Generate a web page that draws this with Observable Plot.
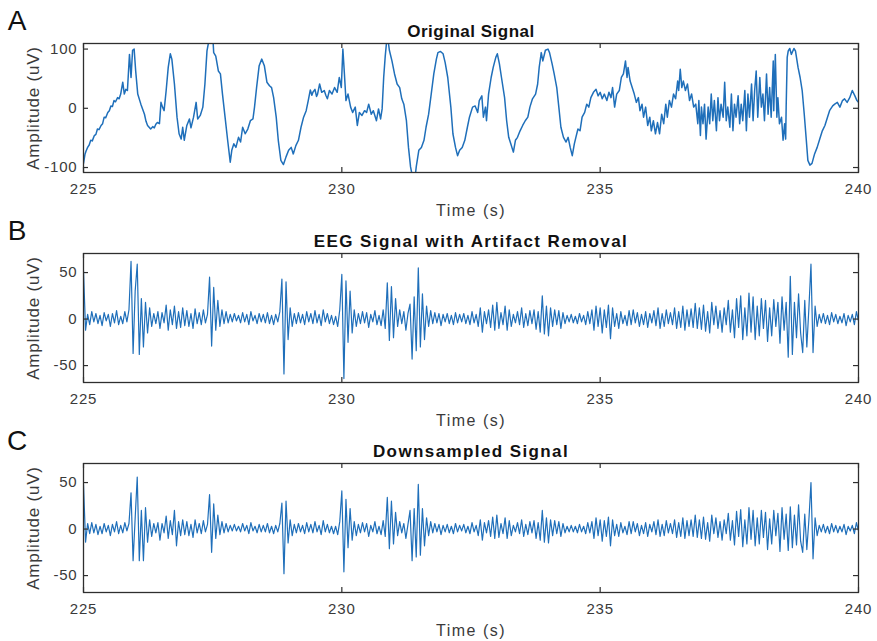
<!DOCTYPE html>
<html><head><meta charset="utf-8">
<script src="https://cdn.jsdelivr.net/npm/d3@7"></script>
<script src="https://cdn.jsdelivr.net/npm/@observablehq/plot@0.6"></script>
<style>
body{margin:0;background:#fff;}
#chart{position:relative;width:877px;height:641px;overflow:hidden;background:#fff;}
#chart svg{position:absolute;left:0;}
</style></head><body><div id="chart"></div>
<script>
// ---- data ----
const timeTicks = [225, 230, 235, 240];
const panelLetters = ["A", "B", "C"];
const panelTitles = ["Original Signal", "EEG Signal with Artifact Removal", "Downsampled Signal"];
const originalTicks = [-100, 0, 100];
const cleanTicks = [-50, 0, 50];

// Original signal: [time (s), amplitude (uV)]
const originalSignal = [
[225.00,-93],[225.03,-77],[225.05,-72],[225.08,-66],[225.11,-62],[225.14,-54],[225.17,-55],[225.21,-46],[225.24,-44],[225.27,-35],
[225.30,-36],[225.34,-29],[225.37,-26],[225.40,-15],[225.43,-16],[225.47,-7],[225.50,-4],[225.53,4],[225.56,3],[225.59,13],
[225.62,11],[225.66,18],[225.69,16],[225.72,24],[225.76,44],[225.79,24],[225.82,32],[225.85,30],[225.89,91],[225.92,52],
[225.95,98],[225.98,100],[226.01,63],[226.05,24],[226.11,7],[226.18,-10],[226.21,-22],[226.24,-29],[226.30,-35],[226.34,-31],
[226.37,-33],[226.40,-27],[226.43,-24],[226.47,-26],[226.50,10],[226.53,2],[226.56,-4],[226.60,30],[226.64,69],[226.68,92],
[226.71,83],[226.76,41],[226.81,-15],[226.85,-43],[226.89,-52],[226.92,-32],[226.95,-54],[227.00,-29],[227.05,-18],[227.08,-33],
[227.13,-15],[227.18,10],[227.21,-18],[227.26,-12],[227.31,2],[227.35,41],[227.39,97],[227.45,125],[227.50,125],[227.52,94],
[227.56,88],[227.61,63],[227.65,58],[227.69,24],[227.74,-15],[227.79,-54],[227.84,-91],[227.87,-71],[227.91,-60],[227.95,-66],
[228.00,-49],[228.04,-57],[228.08,-32],[228.13,-43],[228.18,-35],[228.23,-21],[228.28,-18],[228.31,2],[228.35,35],[228.40,72],
[228.45,83],[228.50,72],[228.55,44],[228.60,38],[228.64,35],[228.68,18],[228.73,-15],[228.77,-54],[228.82,-88],[228.87,-95],
[228.92,-82],[228.97,-71],[229.02,-66],[229.06,-77],[229.11,-63],[229.16,-54],[229.21,-32],[229.26,-15],[229.31,-4],[229.35,13],
[229.39,31],[229.42,22],[229.44,27],[229.48,32],[229.51,20],[229.53,24],[229.57,41],[229.61,27],[229.66,30],[229.69,22],
[229.72,16],[229.76,30],[229.81,24],[229.86,35],[229.91,27],[229.95,52],[229.99,35],[230.02,100],[230.05,58],[230.08,13],
[230.12,24],[230.17,2],[230.21,-7],[230.26,2],[230.30,-29],[230.34,-7],[230.39,-12],[230.44,-4],[230.48,-7],[230.52,7],
[230.57,-10],[230.61,-4],[230.67,-21],[230.71,-1],[230.75,-18],[230.78,-1],[230.81,52],[230.84,88],[230.88,125],[230.92,98],
[230.97,80],[231.02,58],[231.07,41],[231.12,35],[231.16,16],[231.20,7],[231.25,-21],[231.29,-66],[231.33,-99],[231.40,-130],
[231.44,-99],[231.49,-71],[231.54,-66],[231.59,-54],[231.63,-32],[231.68,-10],[231.73,24],[231.78,58],[231.83,83],[231.86,94],
[231.91,96],[231.96,92],[232.00,77],[232.05,52],[232.11,2],[232.15,-43],[232.20,-66],[232.24,-80],[232.28,-71],[232.33,-66],
[232.38,-54],[232.43,-32],[232.47,-15],[232.53,2],[232.58,4],[232.63,-7],[232.66,13],[232.71,21],[232.74,-15],[232.78,2],
[232.80,-21],[232.84,24],[232.89,52],[232.93,69],[232.98,86],[233.01,92],[233.05,75],[233.09,52],[233.15,18],[233.19,-21],
[233.23,-49],[233.27,-60],[233.32,-74],[233.36,-54],[233.40,-49],[233.45,-38],[233.50,-29],[233.55,-21],[233.60,-15],[233.64,2],
[233.69,16],[233.75,24],[233.79,41],[233.82,69],[233.86,94],[233.89,80],[233.94,98],[233.99,100],[234.02,94],[234.07,75],
[234.11,58],[234.16,35],[234.20,2],[234.24,-32],[234.29,-49],[234.34,-57],[234.38,-49],[234.42,-66],[234.46,-80],[234.50,-60],
[234.53,-49],[234.57,-35],[234.61,-38],[234.65,-15],[234.70,-7],[234.74,7],[234.78,2],[234.82,18],[234.87,27],[234.92,32],
[234.96,21],[235.00,27],[235.04,16],[235.08,24],[235.13,13],[235.17,27],[235.21,18],[235.24,35],[235.28,2],[235.32,24],
[235.37,30],[235.41,52],[235.45,58],[235.49,80],[235.52,52],[235.54,69],[235.58,46],[235.62,35],[235.66,24],[235.70,10],
[235.74,18],[235.77,-4],[235.81,7],[235.84,-15],[235.88,2],[235.92,-29],[235.96,-15],[235.99,-38],[236.03,-21],[236.07,-43],
[236.11,-24],[236.15,-43],[236.19,-10],[236.23,-26],[236.27,7],[236.30,-15],[236.34,13],[236.38,2],[236.42,24],[236.46,16],
[236.50,46],[236.52,30],[236.55,66],[236.58,35],[236.61,46],[236.65,30],[236.69,41],[236.73,13],[236.77,24],[236.81,2],
[236.85,7],[236.89,-26],[236.91,13],[236.94,-46],[236.96,2],[236.99,-26],[237.02,7],[237.05,-52],[237.09,2],[237.12,-26],
[237.15,24],[237.18,-21],[237.21,13],[237.25,-38],[237.28,18],[237.31,-21],[237.34,7],[237.38,-15],[237.41,44],[237.44,-21],
[237.47,2],[237.51,-32],[237.54,24],[237.57,-38],[237.60,7],[237.63,-15],[237.67,21],[237.70,-26],[237.73,7],[237.76,-21],
[237.80,30],[237.83,-38],[237.86,24],[237.89,-15],[237.93,41],[237.96,-21],[237.99,30],[238.02,63],[238.05,-15],[238.09,52],
[238.12,2],[238.15,24],[238.18,-21],[238.22,58],[238.25,-10],[238.28,35],[238.31,-15],[238.35,80],[238.36,-4],[238.39,91],
[238.42,-15],[238.44,18],[238.47,-26],[238.51,-15],[238.54,-54],[238.57,-26],[238.59,-52],[238.60,2],[238.62,86],[238.64,97],
[238.67,101],[238.70,91],[238.75,101],[238.78,97],[238.83,69],[238.87,52],[238.91,30],[238.95,-10],[238.99,-54],[239.02,-88],
[239.06,-96],[239.10,-93],[239.15,-77],[239.20,-66],[239.25,-52],[239.30,-38],[239.35,-29],[239.40,-15],[239.44,-4],[239.50,4],
[239.54,7],[239.59,10],[239.64,2],[239.69,13],[239.73,16],[239.78,10],[239.83,18],[239.88,30],[239.93,21],[239.97,13],
[240.00,10]
];

// Cleaned and downsampled signals: one value every 0.04 s from 225 s
const sampleStart = 225;
const sampleStep = 0.04;
const artifactRemoved = [
52,-12,5,-6,8,-3,6,-5,4,-7,7,-2,5,-8,6,-4,9,-6,3,-5,8,-3,10,62,-37,
30,59,-38,22,-30,18,-15,12,-8,6,-5,8,-10,7,-4,15,-12,10,-6,14,-10,8,-9,12,-7,
9,-8,6,-10,11,-5,7,-6,10,-4,5,45,-29,34,-12,20,-8,10,-5,8,-4,5,-3,6,-2,
4,-4,7,-3,5,-6,8,-2,4,-5,6,-3,5,-4,7,-5,4,-6,5,-3,8,43,-59,40,-22,
12,-8,6,-5,7,-4,5,-6,8,-3,6,-5,9,-4,5,-7,10,-3,6,-5,4,-6,3,-8,10,
48,-64,41,-25,30,-15,10,-8,6,-5,8,-4,7,-9,5,-3,9,-6,4,-7,10,-10,39,-23,35,
-20,22,-8,10,-5,8,-12,6,16,-43,24,-34,55,-30,27,-22,14,-8,9,-5,7,-4,6,-7,5,
-3,6,-5,4,-6,7,-4,5,-3,6,-5,4,-6,8,-4,5,-8,12,-14,8,-5,10,-9,15,-12,
18,-10,7,-6,14,-12,10,-8,5,-4,8,-6,12,-9,6,-7,9,-5,10,-11,8,-14,25,-16,14,
-18,12,-8,10,-6,9,-10,7,-5,4,-3,5,-4,3,-5,6,-3,4,-6,8,-5,10,-12,14,-8,
12,-15,10,-9,15,-21,12,-8,6,-10,8,-5,4,-7,9,-6,10,-4,7,-8,5,-6,8,-9,6,
-4,9,-7,12,-10,6,-8,10,-5,7,-6,12,-10,8,-9,14,-12,10,-8,11,-9,17,-10,12,-11,
15,-13,8,-15,18,-6,14,-10,9,-14,12,-6,20,-14,10,-20,22,-9,25,-22,12,-18,28,-14,24,
-22,14,-18,22,-10,20,-24,12,-18,21,-8,18,-26,24,-12,18,-41,46,-38,18,-20,27,-15,-36,20,
-30,12,59,-36,14,-8,5,-4,6,-5,4,-6,7,-3,5,-5,3,-4,6,-7,4,-3,5,-6,8,-2
];
const downsampled = [
48,-14,6,-5,7,-4,5,-6,3,-5,6,-3,4,-7,5,-3,8,-5,4,-4,7,-2,6,39,-34,
12,56,-34,20,-34,23,-14,10,-8,6,-4,7,-12,6,-4,14,-10,9,-6,20,-18,8,-7,10,-6,
8,-7,5,-9,10,-4,6,-5,9,-3,5,37,-25,27,-10,15,-6,8,-4,6,-3,4,-2,5,-2,
3,-3,6,-2,4,-5,7,-2,3,-4,5,-3,4,-3,6,-4,3,-5,4,-3,6,28,-48,30,-15,
10,-7,5,-4,6,-3,4,-5,7,-3,5,-4,8,-3,4,-6,9,-3,5,-4,3,-5,3,-6,8,
41,-46,32,-20,22,-12,8,-7,5,-4,7,-3,6,-8,4,-3,8,-5,3,-6,9,-8,34,-21,30,
-16,18,-7,8,-4,6,-10,5,20,-34,22,-30,48,-28,22,-18,12,-7,8,-4,6,-3,5,-6,4,
-3,5,-4,3,-5,6,-3,4,-2,5,-4,3,-5,7,-3,4,-7,10,-12,7,-4,9,-8,13,-10,
15,-9,6,-5,12,-10,9,-7,4,-3,7,-5,10,-8,5,-6,8,-4,9,-10,7,-12,20,-14,12,
-15,10,-7,9,-5,8,-8,6,-4,3,-3,4,-3,3,-4,5,-3,3,-5,7,-4,8,-10,12,-7,
10,-13,9,-8,13,-18,10,-7,5,-8,7,-4,3,-6,8,-5,8,-3,6,-7,4,-5,7,-8,5,
-3,8,-6,10,-8,5,-7,9,-4,6,-5,10,-9,7,-8,12,-10,9,-7,10,-8,15,-9,10,-10,
13,-11,7,-13,15,-5,12,-9,8,-12,10,-5,17,-12,9,-17,19,-8,21,-19,10,-16,23,-11,20,
-18,12,-16,20,-9,18,-22,11,-16,20,-7,17,-24,23,-11,16,-23,24,-20,15,-17,26,-13,-25,16,
-22,10,50,-32,12,-7,4,-3,5,-4,3,-5,6,-3,4,-4,3,-3,5,-6,3,-2,4,-5,7,-2
];

// ---- drawing ----
const BLUE = "#1f6fba";
const INK = "#2e2e2e";
const TXT = "#3a3a3a";
const FONT = "'Liberation Sans', Arial, sans-serif";
const titleSpacing = ["0.5px", "1.4px", "1.4px"];

function sampled(values) {
  return values.map((v, i) => ({t: sampleStart + i * sampleStep, v}));
}

const panels = [
  {data: originalSignal.map(([t, v]) => ({t, v})), yDomain: [-108.4, 109.4], yTicks: originalTicks, top: 0, sw: 1.5},
  {data: sampled(artifactRemoved), yDomain: [-68.2, 70.5], yTicks: cleanTicks, top: 210, sw: 1.2},
  {data: sampled(downsampled), yDomain: [-68.2, 70.5], yTicks: cleanTicks, top: 420, sw: 1.2}
];

const W = 877, H = 210, mt = 43, mb = 38, ml = 83, mr = 19;
const iw = W - ml - mr, ih = H - mt - mb;
const fmt = d => String(d);

panels.forEach((p, k) => {
  const svg = Plot.plot({
    width: W, height: H,
    marginTop: mt, marginBottom: mb, marginLeft: ml, marginRight: mr,
    style: {background: "transparent", overflow: "visible", fontFamily: FONT, color: INK},
    x: {domain: [225, 240], axis: null},
    y: {domain: p.yDomain, axis: null},
    marks: [
      Plot.line(p.data, {x: "t", y: "v", stroke: BLUE, strokeWidth: p.sw, clip: true}),
      Plot.frame({stroke: INK, strokeWidth: 1.3}),
      Plot.tickX(timeTicks, {x: d => d, insetTop: ih - 5, stroke: INK, strokeWidth: 1.2}),
      Plot.tickX(timeTicks, {x: d => d, insetBottom: ih - 5, stroke: INK, strokeWidth: 1.2}),
      Plot.tickY(p.yTicks, {y: d => d, insetRight: iw - 5, stroke: INK, strokeWidth: 1.2}),
      Plot.tickY(p.yTicks, {y: d => d, insetLeft: iw - 5, stroke: INK, strokeWidth: 1.2}),
      Plot.axisX(timeTicks, {tickSize: 0, tickPadding: 11, label: null, tickFormat: fmt, fontSize: 15, fill: TXT}),
      Plot.axisY(p.yTicks, {tickSize: 0, tickPadding: 6, label: null, tickFormat: fmt, fontSize: 15, fill: TXT}),
      Plot.text(["Time (s)"], {text: d => d, frameAnchor: "bottom", lineAnchor: "middle", dy: 38, fontSize: 16, fill: TXT, className: "xlab"}),
      Plot.text(["Amplitude (uV)"], {text: d => d, frameAnchor: "left", textAnchor: "middle", lineAnchor: "middle", dx: -50, rotate: -90, fontSize: 17, fill: TXT}),
      Plot.text([panelTitles[k]], {text: d => d, frameAnchor: "top", lineAnchor: "middle", dy: -12, fontSize: 17, fontWeight: "bold", fill: "#111", className: "ttl"}),
      Plot.text([panelLetters[k]], {text: d => d, frameAnchor: "top-left", lineAnchor: "middle", dx: -66, dy: -22, fontSize: 28, textAnchor: "middle", fill: "#111"})
    ]
  });
  svg.style.top = p.top + "px";
  const s = d3.select(svg);
  s.selectAll("text").style("letter-spacing", "0.8px");
  s.selectAll(".ttl text").style("letter-spacing", titleSpacing[k]);
  s.selectAll(".xlab text").style("letter-spacing", "1.5px");
  document.getElementById("chart").appendChild(svg);
});
</script>
</body></html>
